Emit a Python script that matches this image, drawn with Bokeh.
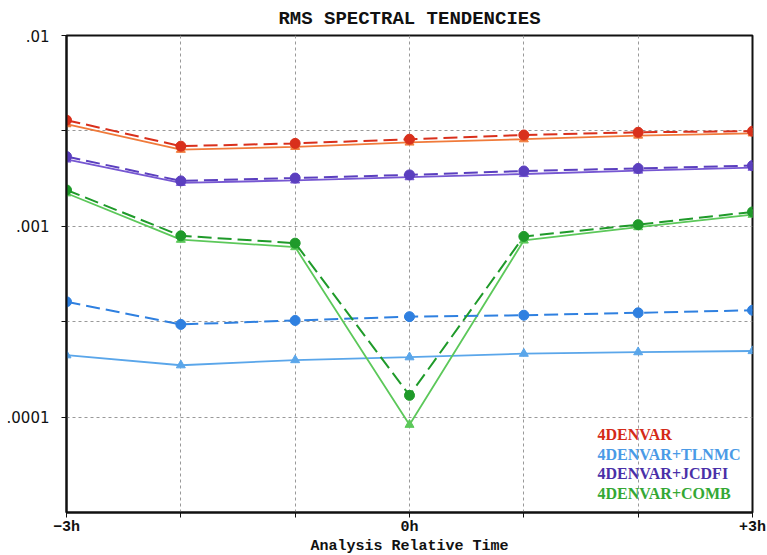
from bokeh.plotting import figure
from bokeh.models import FixedTicker, CustomJSTickFormatter, Label, Range1d
from bokeh.embed import file_html
from bokeh.resources import INLINE

# ---------------- data ----------------
hours = [-3, -2, -1, 0, 1, 2, 3]
x_tick_labels = ["\u22123h", "", "", "0h", "", "", "+3h"]
y_tick_values = [0.01, 0.001, 0.0001]
y_tick_labels = [".01", ".001", ".0001"]
series_names = ["4DENVAR", "4DENVAR+TLNMC", "4DENVAR+JCDFI", "4DENVAR+COMB"]
x_axis_title = "Analysis Relative Time"

# dashed lines with circle markers
denvar_dash = [0.00360, 0.00263, 0.00272, 0.00286, 0.00301, 0.00311, 0.00315]
tlnmc_dash = [0.000402, 0.000306, 0.000321, 0.000336, 0.000342, 0.000352, 0.000363]
jcdfi_dash = [0.00232, 0.00173, 0.00179, 0.00186, 0.00195, 0.00201, 0.00208]
comb_dash = [0.00155, 0.000892, 0.000816, 0.000130, 0.000885, 0.00102, 0.00119]

# solid lines with triangle markers
denvar_solid = [0.00343, 0.00252, 0.00261, 0.00275, 0.00286, 0.00299, 0.00307]
tlnmc_solid = [0.000211, 0.000187, 0.000199, 0.000206, 0.000215, 0.000219, 0.000222]
jcdfi_solid = [0.00224, 0.00169, 0.00174, 0.00181, 0.00188, 0.00196, 0.00203]
comb_solid = [0.00149, 0.000851, 0.000778, 0.0000912, 0.000843, 0.000990, 0.00115]

# ---------------- styles ----------------
dash_colors = ["#d9301c", "#2f80e0", "#5b3fbf", "#1f9a2a"]
solid_colors = ["#f07a3a", "#5aa6ea", "#7657d2", "#5cc85a"]
legend_colors = ["#d42a18", "#4a9ae6", "#4a30a8", "#34a834"]

p = figure(width=767, height=555, output_backend="svg", toolbar_location=None,
           y_axis_type="log",
           x_range=Range1d(-3, 3), y_range=Range1d(10 ** -4.5, 0.01),
           min_border_left=66, min_border_right=15, min_border_top=35,
           min_border_bottom=42)

p.title.text = "RMS SPECTRAL TENDENCIES"
p.title.align = "center"
p.title.text_font = "Liberation Mono"
p.title.text_font_style = "bold"
p.title.text_font_size = "19px"
p.title.text_color = "#111111"
p.title.standoff = 11

p.outline_line_color = "#111111"
p.outline_line_width = 2
p.background_fill_color = "white"
p.border_fill_color = "white"

# axes
p.xaxis.ticker = FixedTicker(ticks=hours)
p.xaxis.major_label_overrides = {h: lab for h, lab in zip(hours, x_tick_labels)}
p.xaxis.major_label_text_font = "Liberation Mono"
p.xaxis.major_label_text_font_style = "bold"
p.xaxis.major_label_text_font_size = "15px"
p.xaxis.major_label_text_color = "#111111"
p.xaxis.major_label_standoff = 1
p.xaxis.major_tick_out = 5
p.xaxis.major_tick_in = 0
p.xaxis.minor_tick_line_color = None
p.xaxis.axis_line_width = 2
p.xaxis.axis_line_color = "#111111"
p.xaxis.major_tick_line_color = "#111111"

half_decades = [10 ** (-2 - 0.5 * k) for k in range(0, 5)]
p.yaxis.ticker = FixedTicker(ticks=half_decades)
p.yaxis.formatter = CustomJSTickFormatter(
    args=dict(vals=y_tick_values, labs=y_tick_labels),
    code="""
    for (let i = 0; i < vals.length; i++) {
        if (Math.abs(Math.log10(tick) - Math.log10(vals[i])) < 1e-6) return labs[i];
    }
    return "";
    """)
p.yaxis.major_label_text_font = "DejaVu Sans"
p.yaxis.major_label_text_font_size = "15px"
p.yaxis.major_label_text_color = "#111111"
p.yaxis.major_label_standoff = 12
p.yaxis.major_tick_out = 5
p.yaxis.major_tick_in = 0
p.yaxis.minor_tick_line_color = None
p.yaxis.axis_line_width = 2
p.yaxis.axis_line_color = "#111111"
p.yaxis.major_tick_line_color = "#111111"

for g in (p.xgrid, p.ygrid):
    g.grid_line_color = "#999999"
    g.grid_line_dash = "3 3"
    g.grid_line_width = 1

# series
dash_series = [denvar_dash, tlnmc_dash, jcdfi_dash, comb_dash]
solid_series = [denvar_solid, tlnmc_solid, jcdfi_solid, comb_solid]

for vals, col in zip(solid_series, solid_colors):
    p.line(hours, vals, line_color=col, line_width=1.8)
    p.scatter(hours, vals, marker="triangle", size=9, fill_color=col, line_color=col)

for vals, col in zip(dash_series, dash_colors):
    p.line(hours, vals, line_color=col, line_width=2, line_dash="14 6")
    p.scatter(hours, vals, marker="circle", size=10, fill_color=col, line_color=col)

# x axis title in the panel below the axis
p.add_layout(Label(x=343, y=9, x_units="screen", y_units="screen",
                   text=x_axis_title, text_color="#111111",
                   text_font="Liberation Mono", text_font_style="bold",
                   text_font_size="15px", text_align="center",
                   text_baseline="middle"), "below")

# legend (text only, coloured)
legend_rows = [78, 58, 39, 19]
for name, col, yy in zip(series_names, legend_colors, legend_rows):
    p.add_layout(Label(x=531, y=yy, x_units="screen", y_units="screen",
                       text=name, text_color=col, text_font="Liberation Serif",
                       text_font_style="bold", text_font_size="16px",
                       text_baseline="middle"))

open("out.html", "w").write(file_html(p, INLINE))
